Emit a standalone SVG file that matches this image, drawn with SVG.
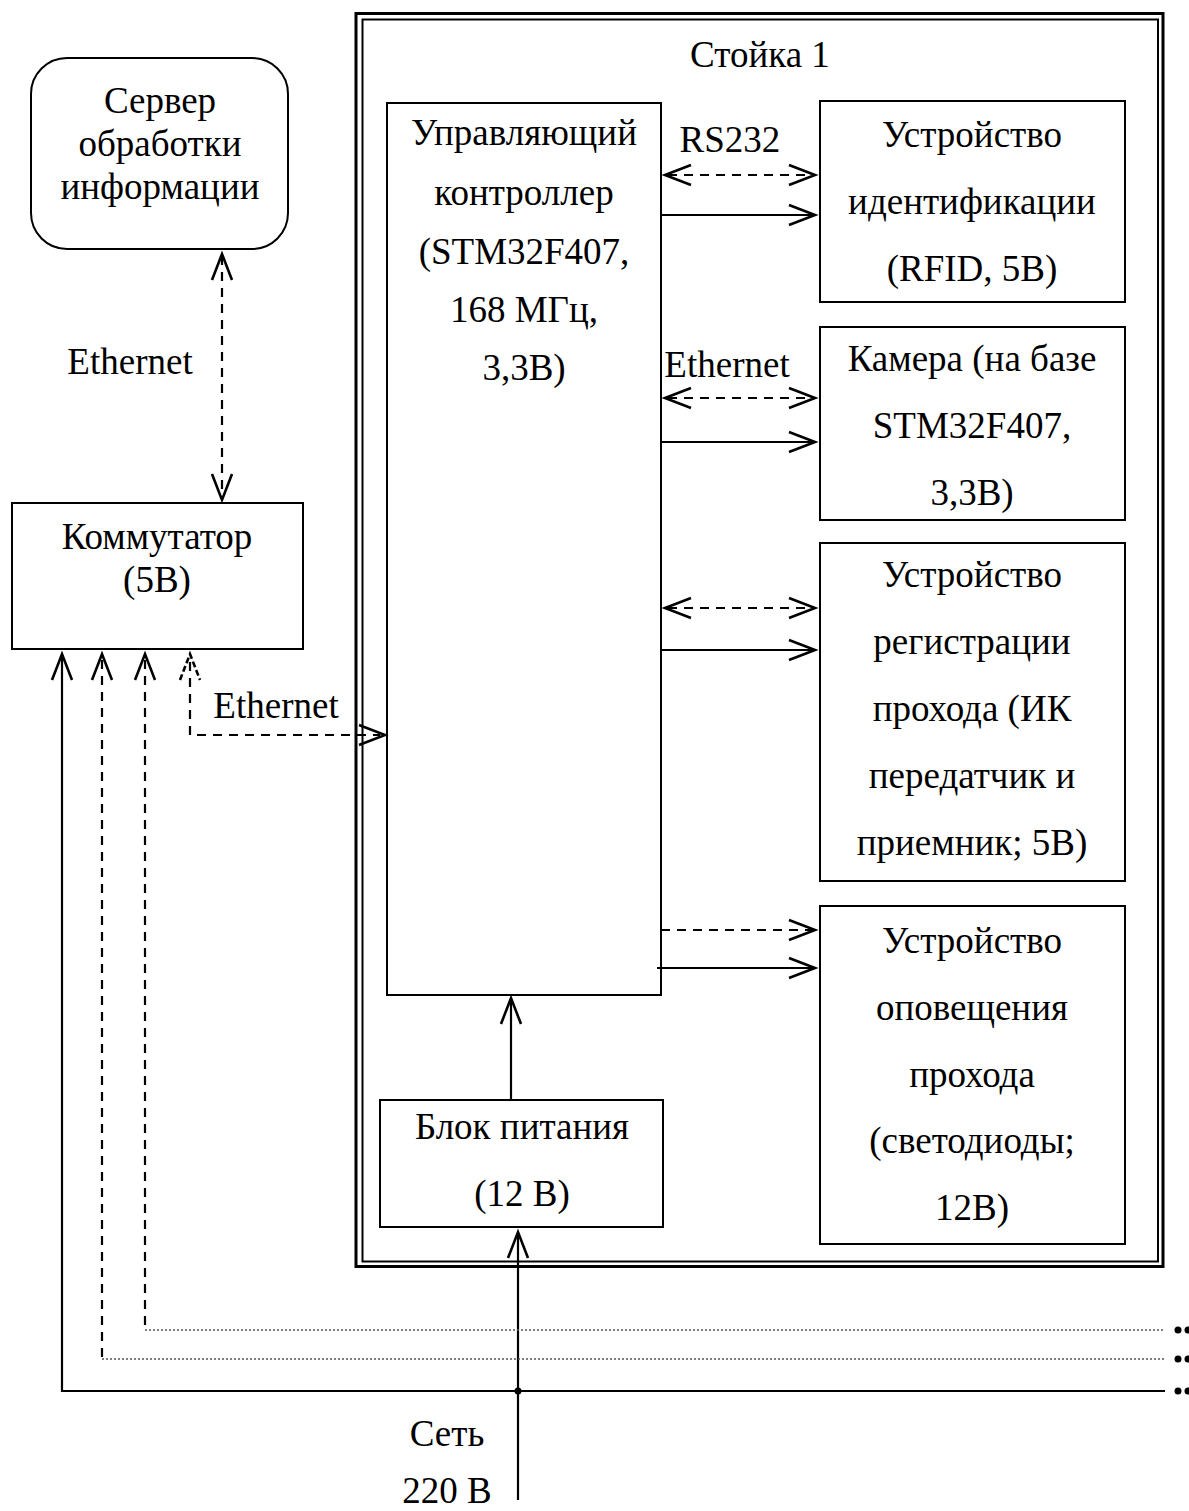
<svg xmlns="http://www.w3.org/2000/svg" width="1189" height="1511" viewBox="0 0 1189 1511">
<style>
text{font-family:"Liberation Serif","Times New Roman",serif;font-size:37px;fill:#000;text-anchor:middle}
.box{fill:#fff;stroke:#000;stroke-width:2}
.ln{fill:none;stroke:#000;stroke-width:2.2}
.dash{fill:none;stroke:#000;stroke-width:2.2;stroke-dasharray:9,7}
.dot{fill:none;stroke:#555;stroke-width:1.5;stroke-dasharray:2,2}
.head{fill:none;stroke:#000;stroke-width:2.6}
</style>
<rect width="1189" height="1511" fill="#fff"/>
<g id="stoika">
<rect x="356" y="13.5" width="807" height="1253" fill="none" stroke="#000" stroke-width="3"/>
<rect x="362.5" y="19.5" width="795.5" height="1242" fill="none" stroke="#000" stroke-width="2"/>
<text x="760" y="67">Стойка 1</text>
</g>
<g id="server">
<rect class="box" x="31" y="58" width="257" height="191" rx="36"/>
<text x="160" y="113">Сервер</text>
<text x="160" y="156">обработки</text>
<text x="160" y="199">информации</text>
</g>
<g id="kommutator">
<rect class="box" x="12" y="503" width="291" height="146"/>
<text x="157" y="549">Коммутатор</text>
<text x="157" y="592">(5В)</text>
</g>
<g id="controller">
<rect class="box" x="387" y="103" width="274" height="892"/>
<text x="524" y="145">Управляющий</text>
<text x="524" y="205">контроллер</text>
<text x="524" y="264">(STM32F407,</text>
<text x="524" y="322">168 МГц,</text>
<text x="524" y="380">3,3В)</text>
</g>
<g id="ident">
<rect class="box" x="820" y="101" width="305" height="201"/>
<text x="972" y="147">Устройство</text>
<text x="972" y="214">идентификации</text>
<text x="972" y="281">(RFID, 5В)</text>
</g>
<g id="camera">
<rect class="box" x="820" y="327" width="305" height="193"/>
<text x="972" y="371">Камера (на базе</text>
<text x="972" y="438">STM32F407,</text>
<text x="972" y="505">3,3В)</text>
</g>
<g id="registr">
<rect class="box" x="820" y="543" width="305" height="338"/>
<text x="972" y="587">Устройство</text>
<text x="972" y="654">регистрации</text>
<text x="972" y="721">прохода (ИК</text>
<text x="972" y="788">передатчик и</text>
<text x="972" y="855">приемник; 5В)</text>
</g>
<g id="opoveshenie">
<rect class="box" x="820" y="906" width="305" height="338"/>
<text x="972" y="953">Устройство</text>
<text x="972" y="1020">оповещения</text>
<text x="972" y="1087">прохода</text>
<text x="972" y="1153">(светодиоды;</text>
<text x="972" y="1220">12В)</text>
</g>
<g id="blok">
<rect class="box" x="380" y="1100" width="283" height="127"/>
<text x="522" y="1139">Блок питания</text>
<text x="522" y="1206">(12 В)</text>
</g>
<g id="connectors">
<line class="dash" x1="222" y1="256" x2="222" y2="498"/>
<polyline class="head" points="212,280 222,254 232,280"/>
<polyline class="head" points="212,474 222,500 232,474"/>
<text x="130" y="374">Ethernet</text>
<line class="dash" x1="668" y1="175" x2="812" y2="175"/>
<polyline class="head" points="691,165 665,175 691,185"/>
<polyline class="head" points="789,165 815,175 789,185"/>
<line class="ln" x1="661" y1="215" x2="813" y2="215"/>
<polyline class="head" points="789,205 815,215 789,225"/>
<text x="730" y="152">RS232</text>
<line class="dash" x1="668" y1="398" x2="812" y2="398"/>
<polyline class="head" points="691,388 665,398 691,408"/>
<polyline class="head" points="789,388 815,398 789,408"/>
<line class="ln" x1="661" y1="442" x2="813" y2="442"/>
<polyline class="head" points="789,432 815,442 789,452"/>
<text x="727" y="377">Ethernet</text>
<line class="dash" x1="668" y1="608" x2="812" y2="608"/>
<polyline class="head" points="691,598 665,608 691,618"/>
<polyline class="head" points="789,598 815,608 789,618"/>
<line class="ln" x1="661" y1="650" x2="813" y2="650"/>
<polyline class="head" points="789,640 815,650 789,660"/>
<line class="dash" x1="661" y1="930" x2="812" y2="930"/>
<polyline class="head" points="789,920 815,930 789,940"/>
<line class="ln" x1="657" y1="968" x2="813" y2="968"/>
<polyline class="head" points="789,958 815,968 789,978"/>
<line class="ln" x1="511" y1="1100" x2="511" y2="1000"/>
<polyline class="head" points="501,1024 511,998 521,1024"/>
<line class="ln" x1="518" y1="1500" x2="518" y2="1234"/>
<polyline class="head" points="508,1258 518,1232 528,1258"/>
<circle cx="518" cy="1391" r="3.5" fill="#000"/>
<text x="447" y="1446">Сеть</text>
<text x="447" y="1503">220 В</text>
<polyline class="ln" points="62,655 62,1391 1165,1391"/>
<polyline class="head" points="52,680 62,654 72,680"/>
<line class="dash" x1="102" y1="660" x2="102" y2="1359"/>
<line class="dot" x1="102" y1="1359" x2="1165" y2="1359"/>
<polyline class="head" points="92,680 102,654 112,680"/>
<line class="dash" x1="145" y1="660" x2="145" y2="1330"/>
<line class="dot" x1="145" y1="1330" x2="1165" y2="1330"/>
<polyline class="head" points="135,680 145,654 155,680"/>
<polyline class="dash" points="190,662 190,735 380,735"/>
<polyline class="head" points="180,680 190,654 200,680" stroke-dasharray="6,3"/>
<polyline class="head" points="359,725 385,735 359,745"/>
<text x="276" y="718">Ethernet</text>
<circle cx="1178" cy="1330" r="3.5" fill="#000"/>
<circle cx="1188" cy="1330" r="3.5" fill="#000"/>
<circle cx="1178" cy="1359" r="3.5" fill="#000"/>
<circle cx="1188" cy="1359" r="3.5" fill="#000"/>
<circle cx="1178" cy="1391" r="3.5" fill="#000"/>
<circle cx="1188" cy="1391" r="3.5" fill="#000"/>
</g>
</svg>
